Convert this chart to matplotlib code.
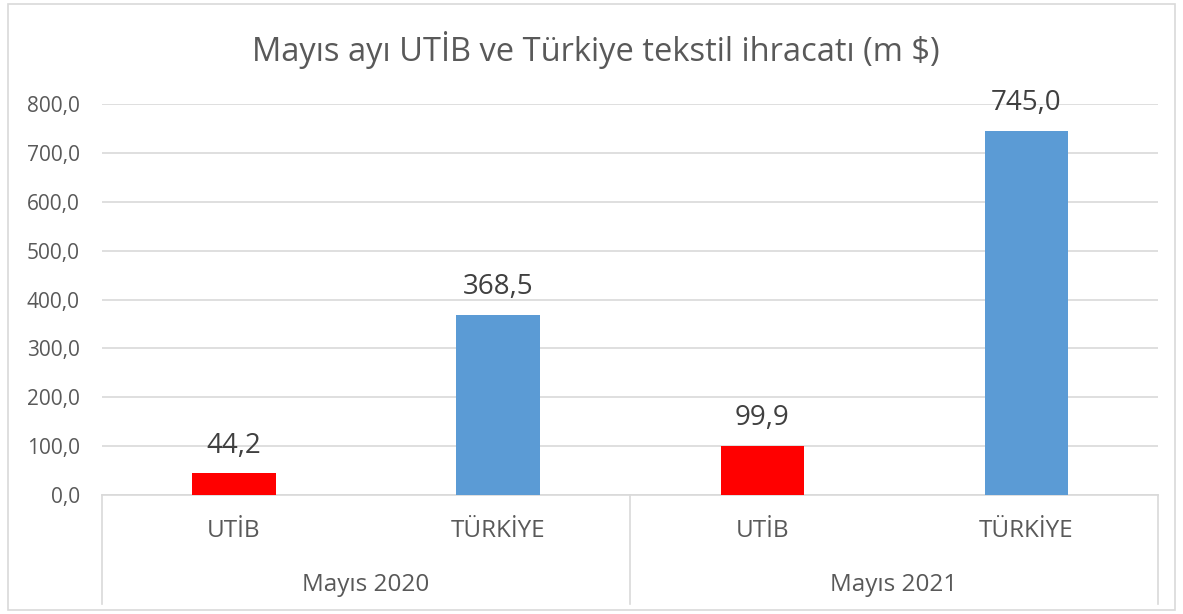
import matplotlib
matplotlib.use("Agg")
import matplotlib.pyplot as plt
import matplotlib.transforms as mtransforms
from matplotlib.patches import Rectangle

title = "Mayıs ayı UTİB ve Türkiye tekstil ihracatı (m $)"
categories = ["UTİB", "TÜRKİYE", "UTİB", "TÜRKİYE"]
groups = ["Mayıs 2020", "Mayıs 2021"]
values = [44.2, 368.5, 99.9, 745.0]
colors = ["#ff0000", "#5b9bd5", "#ff0000", "#5b9bd5"]
yticks = [0, 100, 200, 300, 400, 500, 600, 700, 800]

plt.rcParams['font.family'] = ['Open Sans', 'DejaVu Sans']
txt = "#595959"
grid = "#d9d9d9"

fig = plt.figure(figsize=(11.83, 6.14), dpi=100)
ax = fig.add_axes([0.0862, 0.1938, 0.979 - 0.0862, 0.8306 - 0.1938])

x = list(range(len(values)))
ax.bar(x, values, width=0.315, color=colors, zorder=3)
ax.set_xlim(-0.5, len(values) - 0.5)
ax.set_ylim(0, 800)
ax.set_yticks(yticks)
ax.set_yticklabels([f"{v:.1f}".replace(".", ",") for v in yticks], color=txt, fontsize=15)
ax.tick_params(axis='y', length=0, pad=16)
ax.tick_params(axis='x', length=0, labelbottom=False)
ax.grid(axis='y', color=grid, linewidth=1.2, zorder=0)
for s in ["top", "right", "left"]:
    ax.spines[s].set_visible(False)
ax.spines["bottom"].set_color(grid)
ax.spines["bottom"].set_linewidth(1.2)

for xi, v in zip(x, values):
    ax.annotate(f"{v:.1f}".replace(".", ","), (xi, v), xytext=(0, 10), textcoords="offset points",
                ha="center", va="bottom", fontsize=20, color="#404040")

trans = mtransforms.blended_transform_factory(ax.transData, ax.transAxes)
for xi, c in zip(x, categories):
    ax.text(xi, -0.092, c, transform=trans, ha="center", va="center", fontsize=17.5, color=txt)
for gi, g in enumerate(groups):
    ax.text(2 * gi + 0.5, -0.23, g, transform=trans, ha="center", va="center", fontsize=17.5, color=txt)
for xb in [-0.5, 1.5, 3.5]:
    ax.plot([xb, xb], [0, -0.28], transform=trans, color=grid, linewidth=1.2, clip_on=False)

fig.text(596 / 1183, 1 - 50 / 614, title, ha="center", va="center", fontsize=23.5, color=txt)

fig.patches.append(Rectangle((8 / 1183, 4 / 614), 1167 / 1183, 606 / 614, transform=fig.transFigure,
                             fill=False, edgecolor=grid, linewidth=1.2))

fig.savefig("out.png", dpi=100)
